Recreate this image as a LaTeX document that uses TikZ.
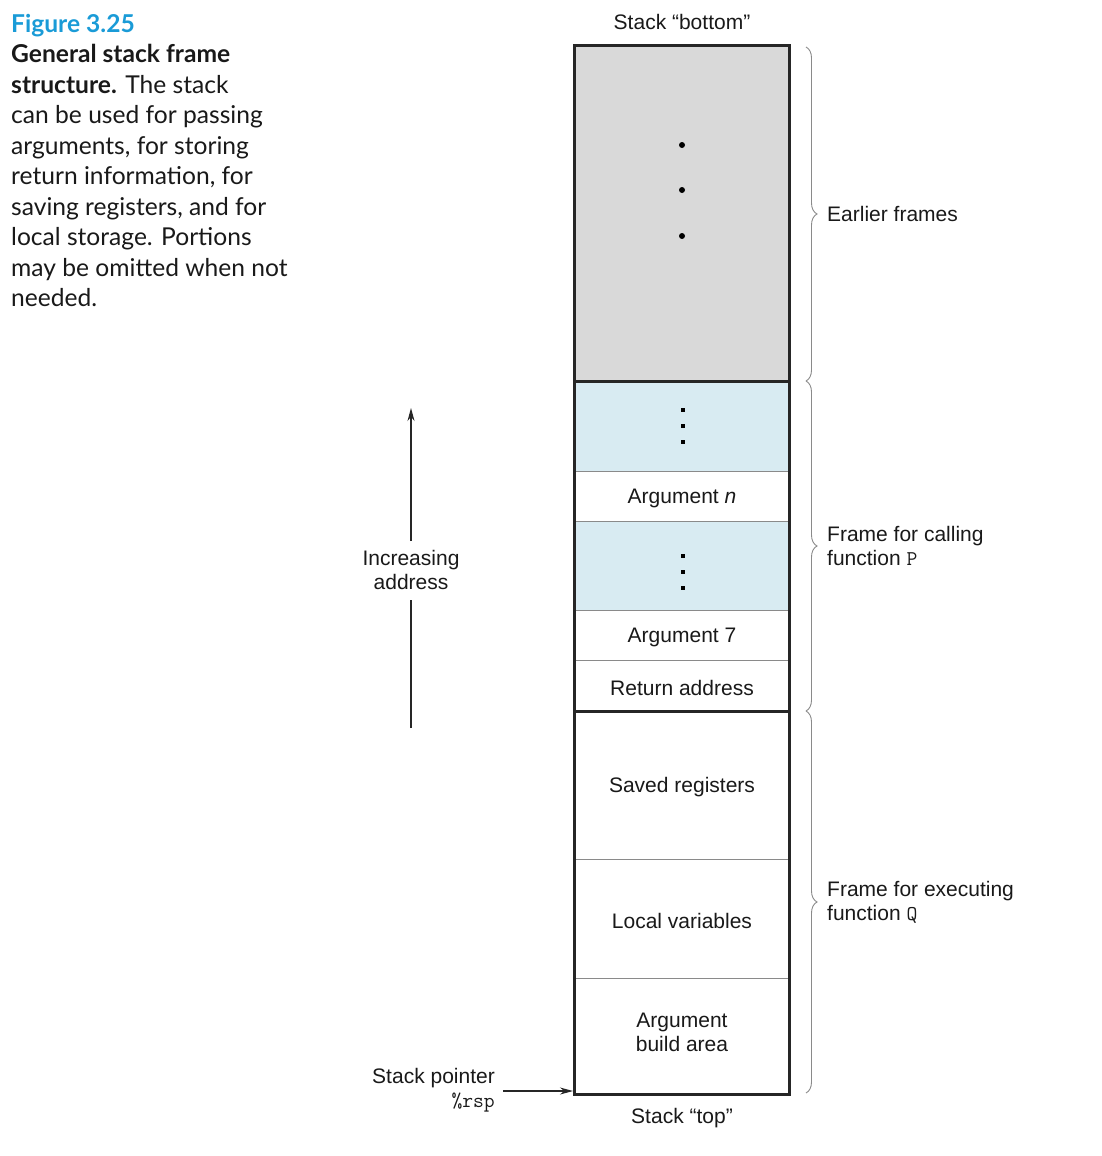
\documentclass[tikz,border=0pt]{standalone}
\usepackage{fontspec}
\setmainfont{Liberation Sans}
\newfontfamily\capfont{Lato}
\usetikzlibrary{arrows.meta,decorations.pathreplacing}
\definecolor{cellgray}{HTML}{D9D9D9}
\definecolor{cellblue}{HTML}{D8EBF2}
\definecolor{capblue}{HTML}{1A9BD7}
\definecolor{linegray}{HTML}{8A8A8A}
\tikzset{
  lbl/.style={font=\fontsize{21}{24}\selectfont, text=black!90, inner sep=0pt},
  cell/.style={draw=linegray, line width=0.8pt, minimum width=214pt, inner sep=0pt, anchor=center, lbl, align=center},
  celltext/.style={lbl, align=center, yshift=-2pt},
  dotc/.style={fill=black, circle, inner sep=0pt, minimum size=6pt},
  sdot/.style={fill=black, inner sep=0pt, minimum size=3.5pt},
  brc/.style={draw=linegray, line width=0.9pt, decorate, decoration={brace, amplitude=11pt}},
  thick line/.style={line width=2.4pt, draw=black!85},
  arr/.style={-{Stealth[length=13pt,width=7pt]}, line width=1.2pt, draw=black!85},
}
\begin{document}
\begin{tikzpicture}[x=1pt,y=-1pt]
\useasboundingbox (0,0) rectangle (1102,1156);
% caption
\node[anchor=north west, align=left, inner sep=0pt, font=\capfont\fontsize{24.6}{30.5}\selectfont, text=black!90] (cap) at (11,14)
 {{\color{capblue}\bfseries Figure 3.25}\\
  \textbf{General stack frame}\\
  \textbf{structure.} The stack\\
  can be used for passing\\
  arguments, for storing\\
  return information, for\\
  saving registers, and for\\
  local storage. Portions\\
  may be omitted when not\\
  needed.};
% cells
\node[cell, fill=cellgray, minimum height=335pt] (earl) at (682,213.5) {};
\node[cell, fill=cellblue, minimum height=90pt] (b1) at (682,426) {};
\node[cell, fill=white, minimum height=50pt] (argn) at (682,496) {};
\node[cell, fill=cellblue, minimum height=89pt] (b2) at (682,565.5) {};
\node[cell, fill=white, minimum height=50pt] (arg7) at (682,635) {};
\node[cell, fill=white, minimum height=51pt] (ret) at (682,685.5) {};
\node[cell, fill=white, minimum height=148pt] (saved) at (682,785) {};
\node[cell, fill=white, minimum height=119pt] (local) at (682,918.5) {};
\node[cell, fill=white, minimum height=116pt] (build) at (682,1036) {};
\node[celltext] (targn) at (argn) {Argument \textit{n}};
\node[celltext] (targ7) at (arg7) {Argument 7};
\node[celltext] (tret) at (ret) {Return address};
\node[celltext] (tsaved) at (saved) {Saved registers};
\node[celltext] (tlocal) at (local) {Local variables};
\node[lbl, align=center, yshift=4pt] (tbuild) at (build) {Argument\\build area};
% dots
\node[dotc] (d1) at (682,145) {};
\node[dotc] (d2) at (682,190) {};
\node[dotc] (d3) at (682,236) {};
\node[sdot] (e1) at (683,410) {};
\node[sdot] (e2) at (683,426) {};
\node[sdot] (e3) at (683,442) {};
\node[sdot] (f1) at (683,556) {};
\node[sdot] (f2) at (683,572) {};
\node[sdot] (f3) at (683,588) {};
% thick lines
\draw[thick line] (earl.south west) -- (earl.south east);
\draw[thick line] (ret.south west) -- (ret.south east);
\draw[thick line] (earl.north west) rectangle (build.south east);
% titles
\node[lbl] (bot) at (682,22) {Stack “bottom”};
\node[lbl] (top) at (682,1118) {Stack “top”};
% braces
\coordinate (br0) at (806,47);
\coordinate (br1) at (806,381);
\coordinate (br2) at (806,711);
\coordinate (br3) at (806,1093);
\draw[brc] (br0) -- (br1);
\draw[brc] (br1) -- (br2);
\draw[brc] (br2) -- (br3);
\node[lbl, anchor=west] (t1) at (827,214) {Earlier frames};
\node[lbl, anchor=west, align=left] (t2) at (827,546) {Frame for calling\\function {\ttfamily P}};
\node[lbl, anchor=west, align=left] (t3) at (827,902) {Frame for executing\\function {\ttfamily Q}};
% increasing address
\node[lbl, align=center] (inc) at (411,570) {Increasing\\address};
\coordinate (ia0) at (411,728);
\coordinate (ia1) at (411,408);
\draw[line width=1.2pt, draw=black!85] (ia0) -- (411,600);
\draw[arr] (411,541) -- (ia1);
% stack pointer
\node[lbl, anchor=east, align=right] (sp) at (495,1090) {Stack pointer\\{\ttfamily\%rsp}};
\coordinate (spt) at (573,1091);
\draw[arr] (503,1091) -- (spt);
\end{tikzpicture}
\end{document}
